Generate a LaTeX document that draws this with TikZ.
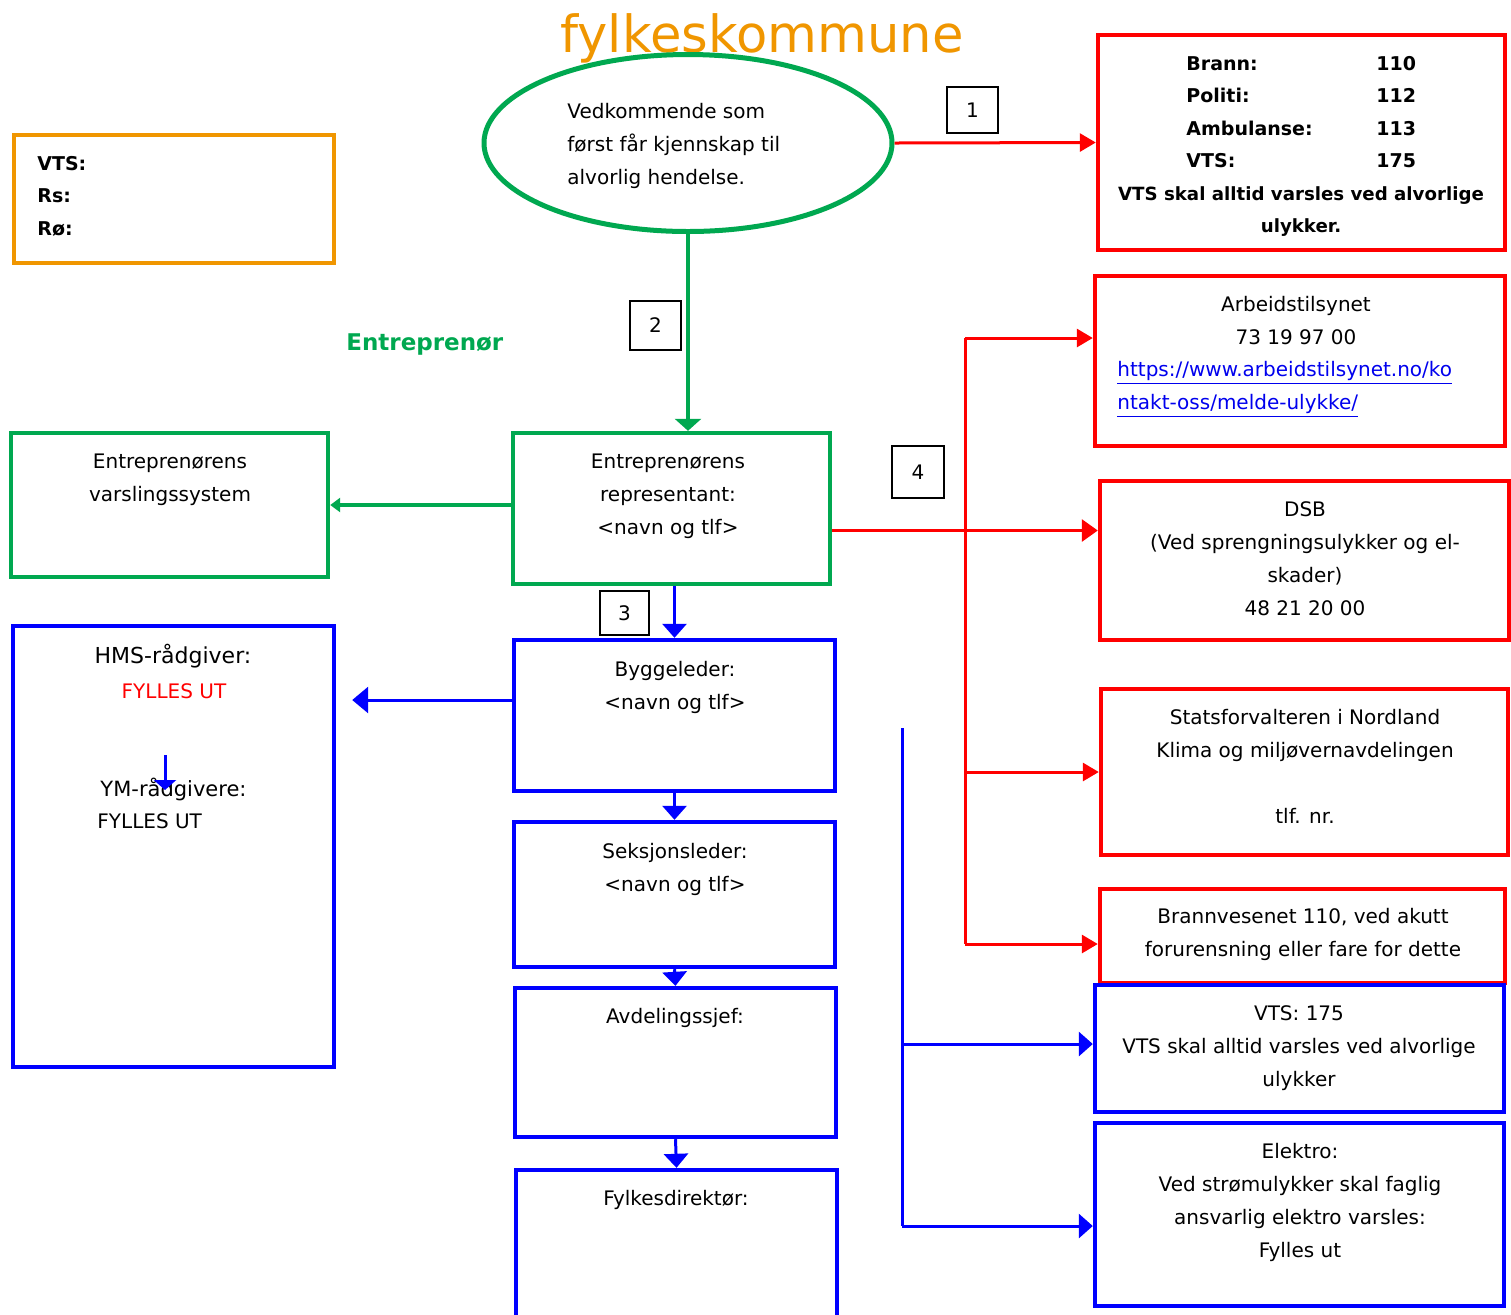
\documentclass[tikz,border=0pt]{standalone}
\usepackage{fontspec}
\setmainfont{DejaVu Sans}
\usetikzlibrary{arrows.meta,shapes.geometric,fit}
\definecolor{cRed}{RGB}{255,0,0}
\definecolor{cGreen}{RGB}{0,168,80}
\definecolor{cBlue}{RGB}{0,0,255}
\definecolor{cOrange}{RGB}{240,150,0}
\definecolor{cLink}{RGB}{0,0,238}
\newcommand{\ctab}[1]{\begin{tabular}[t]{@{}c@{}}#1\end{tabular}}
\newcommand{\ltab}[1]{\begin{tabular}[t]{@{}l@{}}#1\end{tabular}}
\begin{document}
\begin{tikzpicture}[x=0.5pt,y=-0.5pt,
  redbox/.style={draw=cRed, line width=2.2pt, inner sep=0pt},
  bluebox/.style={draw=cBlue, line width=2.2pt, inner sep=0pt},
  greenbox/.style={draw=cGreen, line width=2.2pt, inner sep=0pt},
  orangebox/.style={draw=cOrange, line width=2.2pt, inner sep=0pt},
  nbox/.style={draw=black, line width=0.8pt, inner sep=0pt, font=\fontsize{10}{12}\selectfont},
  txt/.style={anchor=base, inner sep=0pt, font=\fontsize{10}{16.5}\selectfont},
  btxt/.style={anchor=base, inner sep=0pt, font=\fontsize{9.5}{16.25}\selectfont\bfseries},
  rline/.style={draw=cRed, line width=1.5pt, -{Triangle[length=8pt,width=9pt]}},
  rbus/.style={draw=cRed, line width=1.5pt},
  gline/.style={draw=cGreen, line width=2pt, -{Triangle[length=6pt,width=13pt]}},
  bline/.style={draw=cBlue, line width=1.5pt, -{Triangle[length=7pt,width=12pt]}},
  bbus/.style={draw=cBlue, line width=1.5pt}
]
\fill[white] (0,0) rectangle (1511,1314);
\useasboundingbox (0,0) rectangle (1511,1314);

% title
\node[anchor=base, inner sep=0pt, text=cOrange, font=\fontsize{25.6}{30}\selectfont] (title) at (762,52) {fylkeskommune};

% ellipse
\node[ellipse, draw=cGreen, line width=2.5pt, minimum width=204pt, minimum height=88.5pt, inner sep=0pt] (ell) at (688,143) {};
\node[txt, anchor=base west] (elltxt) at (567,118) {\ltab{Vedkommende som\\først får kjennskap til\\alvorlig hendelse.}};

% number boxes
\node[nbox, minimum width=25.5pt, minimum height=23pt] (n1) at (972.5,110) {1};
\node[nbox, minimum width=25.5pt, minimum height=24.5pt] (n2) at (655.5,325.5) {2};
\node[nbox, minimum width=24.5pt, minimum height=22pt] (n3) at (624.5,613) {3};
\node[nbox, minimum width=26pt, minimum height=26pt] (n4) at (918,472) {4};

% emergency box
\node[redbox, fit={(1098,35)(1505,250)}] (emerg) {};
\node[btxt, anchor=base west] (em1) at (1186,70) {\ltab{Brann:\\Politi:\\Ambulanse:\\VTS:}};
\node[btxt, anchor=base west] (em2) at (1376,70) {\ltab{110\\112\\113\\175}};
\node[btxt, font=\fontsize{9.1}{16.25}\selectfont\bfseries] (em3) at (1301,200) {\ctab{VTS skal alltid varsles ved alvorlige\\ulykker.}};

% orange box
\node[orangebox, fit={(14,135)(334,263)}] (obox) {};
\node[btxt, anchor=base west] (otxt) at (37,170) {\ltab{VTS:\\Rs:\\Rø:}};

% Entreprenør
\node[anchor=base west, inner sep=0pt, text=cGreen, font=\fontsize{11.5}{14}\selectfont\bfseries] (entr) at (346,350) {Entreprenør};

% green boxes
\node[greenbox, fit={(513,433)(830,584)}] (rep) {};
\node[txt] (reptxt) at (668,468) {\ctab{Entreprenørens\\representant:\\<navn og tlf>}};
\node[greenbox, fit={(11,433)(328,577)}] (varsl) {};
\node[txt] (varsltxt) at (170,468) {\ctab{Entreprenørens\\varslingssystem}};

% red right boxes
\node[redbox, fit={(1095,276)(1505,446)}] (arb) {};
\node[txt] (arbtxt) at (1296,311) {\ctab{Arbeidstilsynet\\73 19 97 00}};
\node[txt, anchor=base west, text=cLink] (arblink) at (1117,376) {\ltab{\underline{https://www.arbeidstilsynet.no/ko}\\\underline{ntakt-oss/melde-ulykke/}}};

\node[redbox, fit={(1100,481)(1509,640)}] (dsb) {};
\node[txt] (dsbtxt) at (1305,516) {\ctab{DSB\\(Ved sprengningsulykker og el-\\skader)\\48 21 20 00}};

\node[redbox, fit={(1101,689)(1508,855)}] (stats) {};
\node[txt] (statstxt) at (1305,724) {\ctab{Statsforvalteren i Nordland\\Klima og miljøvernavdelingen\\ \\tlf. nr.}};

\node[redbox, fit={(1100,889)(1505,983)}] (brann) {};
\node[txt] (branntxt) at (1303,923) {\ctab{Brannvesenet 110, ved akutt\\forurensning eller fare for dette}};

% blue right boxes
\node[bluebox, fit={(1095,985)(1504,1112)}] (vts2) {};
\node[txt] (vts2txt) at (1299,1020) {\ctab{VTS: 175\\VTS skal alltid varsles ved alvorlige\\ulykker}};

\node[bluebox, fit={(1095,1123)(1504,1306)}] (elek) {};
\node[txt] (elektxt) at (1300,1158) {\ctab{Elektro:\\Ved strømulykker skal faglig\\ansvarlig elektro varsles:\\Fylles ut}};

% blue chain
\node[bluebox, fit={(514,640)(835,791)}] (bygg) {};
\node[txt] (byggtxt) at (675,676) {\ctab{Byggeleder:\\<navn og tlf>}};
\node[bluebox, fit={(514,822)(835,967)}] (seks) {};
\node[txt] (sekstxt) at (675,858) {\ctab{Seksjonsleder:\\<navn og tlf>}};
\node[bluebox, fit={(515,988)(836,1137)}] (avd) {};
\node[txt] (avdtxt) at (675,1023) {Avdelingssjef:};
\node[bluebox, fit={(516,1170)(837,1330)}] (fyl) {};
\node[txt] (fyltxt) at (676,1205) {Fylkesdirektør:};

% HMS box
\node[bluebox, fit={(13,626)(334,1067)}] (hms) {};
\node[txt, font=\fontsize{11}{14}\selectfont] (hms1) at (173,663) {HMS-rådgiver:};
\node[txt, text=cRed] (hms2) at (174,698) {FYLLES UT};
\node[txt, font=\fontsize{10.5}{14}\selectfont] (hms3) at (173.5,796) {YM-rådgivere:};
\node[txt, anchor=base west] (hms4) at (97,828) {FYLLES UT};

% connectors
\draw[rline] (ell.east) -- (emerg.west);
\draw[gline] (ell.south) -- (ell.south |- rep.north);
\draw[gline, -{Triangle[length=5pt,width=7pt]}] (rep.west |- varsl.east) -- (varsl.east);
\draw[rline, -{Triangle[length=8pt,width=11pt]}] ([yshift=-11pt]rep.east) -- ([yshift=-11pt]rep.east -| dsb.west);

\coordinate (rb1) at (965,338);
\coordinate (rb2) at (965,772);
\coordinate (rb3) at (965,944);
\draw[rbus] (rb1) -- (rb3);
\draw[rline] (rb1) -- (rb1 -| arb.west);
\draw[rline] (rb2) -- (rb2 -| stats.west);
\draw[rline] (rb3) -- (rb3 -| brann.west);

\coordinate (bb0) at (902,728);
\coordinate (bb1) at (902,1044);
\coordinate (bb2) at (902,1226);
\draw[bbus] (bb0) -- (bb2);
\draw[bline] (bb1) -- (bb1 -| vts2.west);
\draw[bline] (bb2) -- (bb2 -| elek.west);

\draw[bline] (rep.south -| bygg.north) -- (bygg.north);
\draw[bline] (bygg.south) -- (seks.north);
\draw[bline] (seks.south) -- (avd.north);
\draw[bline] (avd.south) -- (fyl.north);
\draw[bline, -{Triangle[length=8pt,width=13pt]}, shorten >=8pt] ([yshift=7.75pt]bygg.west) -- ([yshift=7.75pt]bygg.west -| hms.east);

\coordinate (s1) at (165,755);
\coordinate (s2) at (165,790);
\draw[bline, -{Triangle[length=5pt,width=11pt]}] (s1) -- (s2);
\end{tikzpicture}
\end{document}
